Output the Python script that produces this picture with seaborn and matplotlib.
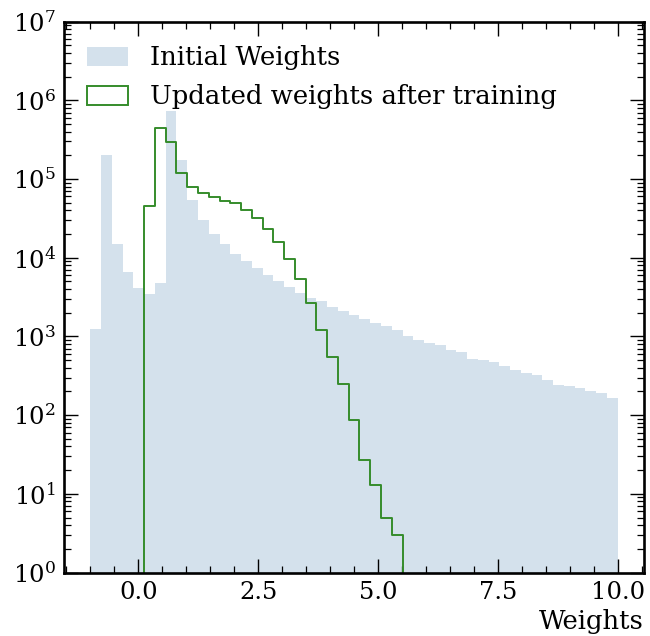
import numpy as np
import pandas as pd
import matplotlib
matplotlib.use("Agg")
import matplotlib.pyplot as plt
from matplotlib.patches import Patch
from matplotlib.ticker import MultipleLocator
import seaborn as sns

# ---- data ----
BIN_LO, BIN_HI, N_BINS = -1.0, 10.0, 49

initial_counts = [
    1240, 200000, 15000, 6600, 4100, 3450, 4800, 730000, 175000, 54000,
    30500, 19900, 14800, 11200, 9200, 7400, 6100, 5000, 4300, 3600,
    3100, 2850, 2370, 2080, 1870, 1660, 1470, 1370, 1220, 1020,
    908, 824, 784, 677, 635, 520, 495, 467, 415, 377,
    342, 319, 276, 241, 236, 220, 204, 190, 165,
]
updated_counts = [
    0, 0, 0, 0, 0, 46000, 440000, 297000, 120000, 79000,
    67000, 59000, 53000, 49000, 40000, 32000, 23500, 15700, 9700, 5400,
    2660, 1200, 555, 248, 87, 27, 13, 5, 3, 0,
    0, 0, 0, 0, 0, 0, 0, 0, 0, 0,
    0, 0, 0, 0, 0, 0, 0, 0, 0,
]
series_labels = ["Initial Weights", "Updated weights after training"]
x_label = "Weights"
x_ticks = [0.0, 2.5, 5.0, 7.5, 10.0]
x_tick_labels = ["0.0", "2.5", "5.0", "7.5", "10.0"]

# ---- style ----
plt.rcParams["font.family"] = ["DejaVu Serif"]
plt.rcParams["mathtext.fontset"] = "dejavuserif"

edges = np.linspace(BIN_LO, BIN_HI, N_BINS + 1)
centers = 0.5 * (edges[:-1] + edges[1:])
bin_list = edges.tolist()
df_init = pd.DataFrame({"w": centers, "n": initial_counts})
df_upd = pd.DataFrame({"w": centers, "n": updated_counts})

blue = "#d4e1ec"
green = "#358c2b"

fig = plt.figure(figsize=(6.5, 6.36), dpi=100)
ax = fig.add_axes([0.0985, 0.0998, 0.8925, 0.8662])

sns.histplot(data=df_init, x="w", weights="n", bins=bin_list, element="bars",
             fill=True, color=blue, alpha=1.0, linewidth=0, ax=ax,
             log_scale=(False, True))
sns.histplot(data=df_upd, x="w", weights="n", bins=bin_list, element="step",
             fill=False, color=green, linewidth=1.4, ax=ax)

ax.set_yscale("log")
ax.set_ylim(1, 1e7)
ax.set_xlim(-1.55, 10.55)
ax.set_xticks(x_ticks)
ax.set_xticklabels(x_tick_labels)
ax.xaxis.set_minor_locator(MultipleLocator(0.5))

ax.tick_params(which="both", direction="in", top=True, right=True,
               labelsize=17.5)
ax.tick_params(which="major", length=10, width=1.0, pad=6)
ax.tick_params(which="minor", length=5, width=0.9)
for s in ax.spines.values():
    s.set_linewidth(1.9)

ax.set_ylabel("")
ax.set_xlabel(x_label, loc="right", fontsize=18.6, labelpad=4)

handles = [Patch(facecolor=blue, edgecolor="none"),
           Patch(facecolor="none", edgecolor=green, linewidth=1.4)]
ax.legend(handles, series_labels, loc="upper left", frameon=False,
          fontsize=18.6, handlelength=1.6, handleheight=0.75,
          handletextpad=0.85, labelspacing=0.55, borderaxespad=0.0,
          bbox_to_anchor=(0.021, 0.976))

fig.savefig("out.png", dpi=100)
